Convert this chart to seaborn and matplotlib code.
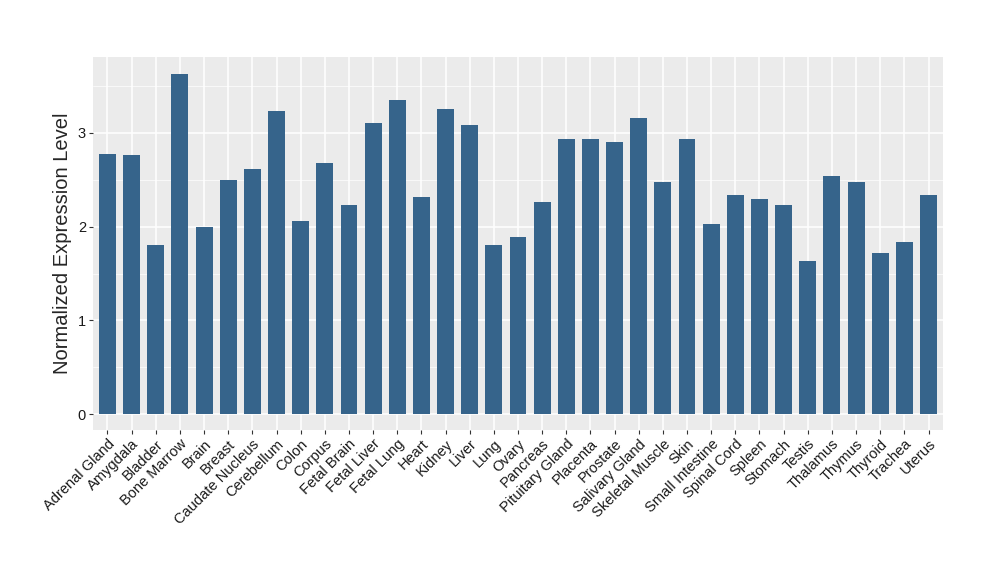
import numpy as np
import pandas as pd
import seaborn as sns
import matplotlib.pyplot as plt
from matplotlib.ticker import MultipleLocator

tissues = ['Adrenal Gland', 'Amygdala', 'Bladder', 'Bone Marrow', 'Brain', 'Breast',
           'Caudate Nucleus', 'Cerebellum', 'Colon', 'Corpus', 'Fetal Brain', 'Fetal Liver',
           'Fetal Lung', 'Heart', 'Kidney', 'Liver', 'Lung', 'Ovary', 'Pancreas',
           'Pituitary Gland', 'Placenta', 'Prostate', 'Salivary Gland', 'Skeletal Muscle',
           'Skin', 'Small Intestine', 'Spinal Cord', 'Spleen', 'Stomach', 'Testis',
           'Thalamus', 'Thymus', 'Thyroid', 'Trachea', 'Uterus']
levels = [2.78, 2.76, 1.80, 3.63, 2.00, 2.50,
          2.61, 3.23, 2.06, 2.68, 2.23, 3.11,
          3.35, 2.32, 3.26, 3.08, 1.80, 1.885, 2.26,
          2.94, 2.94, 2.90, 3.16, 2.48,
          2.94, 2.03, 2.34, 2.29, 2.23, 1.63,
          2.54, 2.48, 1.72, 1.84, 2.34]
y_ticks = [0, 1, 2, 3]

df = pd.DataFrame({'tissue': tissues, 'level': levels})

sns.set_style('darkgrid', {'axes.facecolor': '#EBEBEB', 'grid.color': 'white'})
plt.rcParams['font.family'] = ['Liberation Sans', 'DejaVu Sans']

fig = plt.figure(figsize=(10, 5.8), dpi=100)
ax = fig.add_axes([0.093, 0.2586, 0.85, 0.6431])
sns.barplot(data=df, x='tissue', y='level', color='#36648B', saturation=1,
            width=0.7, linewidth=0, edgecolor='none', ax=ax)

ax.set_xlim(-0.6, len(tissues) - 0.4)
ax.set_ylim(-0.17, 3.81)
ax.set_yticks(y_ticks)
ax.yaxis.set_minor_locator(MultipleLocator(0.5))
ax.grid(which='major', color='white', linewidth=1.1)
ax.grid(which='minor', axis='y', color='white', linewidth=0.5)
ax.set_axisbelow(True)
for s in ax.spines.values():
    s.set_visible(False)

ax.set_xlabel('')
ax.set_ylabel('Normalized Expression Level', fontsize=14.5, labelpad=4)
ax.tick_params(axis='both', which='major', length=3, color='#333333', width=0.8,
               labelsize=10.5, labelcolor='#1A1A1A', pad=2, bottom=True, left=True)
ax.tick_params(axis='y', which='minor', length=0, left=False)
plt.setp(ax.get_xticklabels(), rotation=45, ha='right', rotation_mode='anchor')

fig.savefig('out.png', dpi=100)
